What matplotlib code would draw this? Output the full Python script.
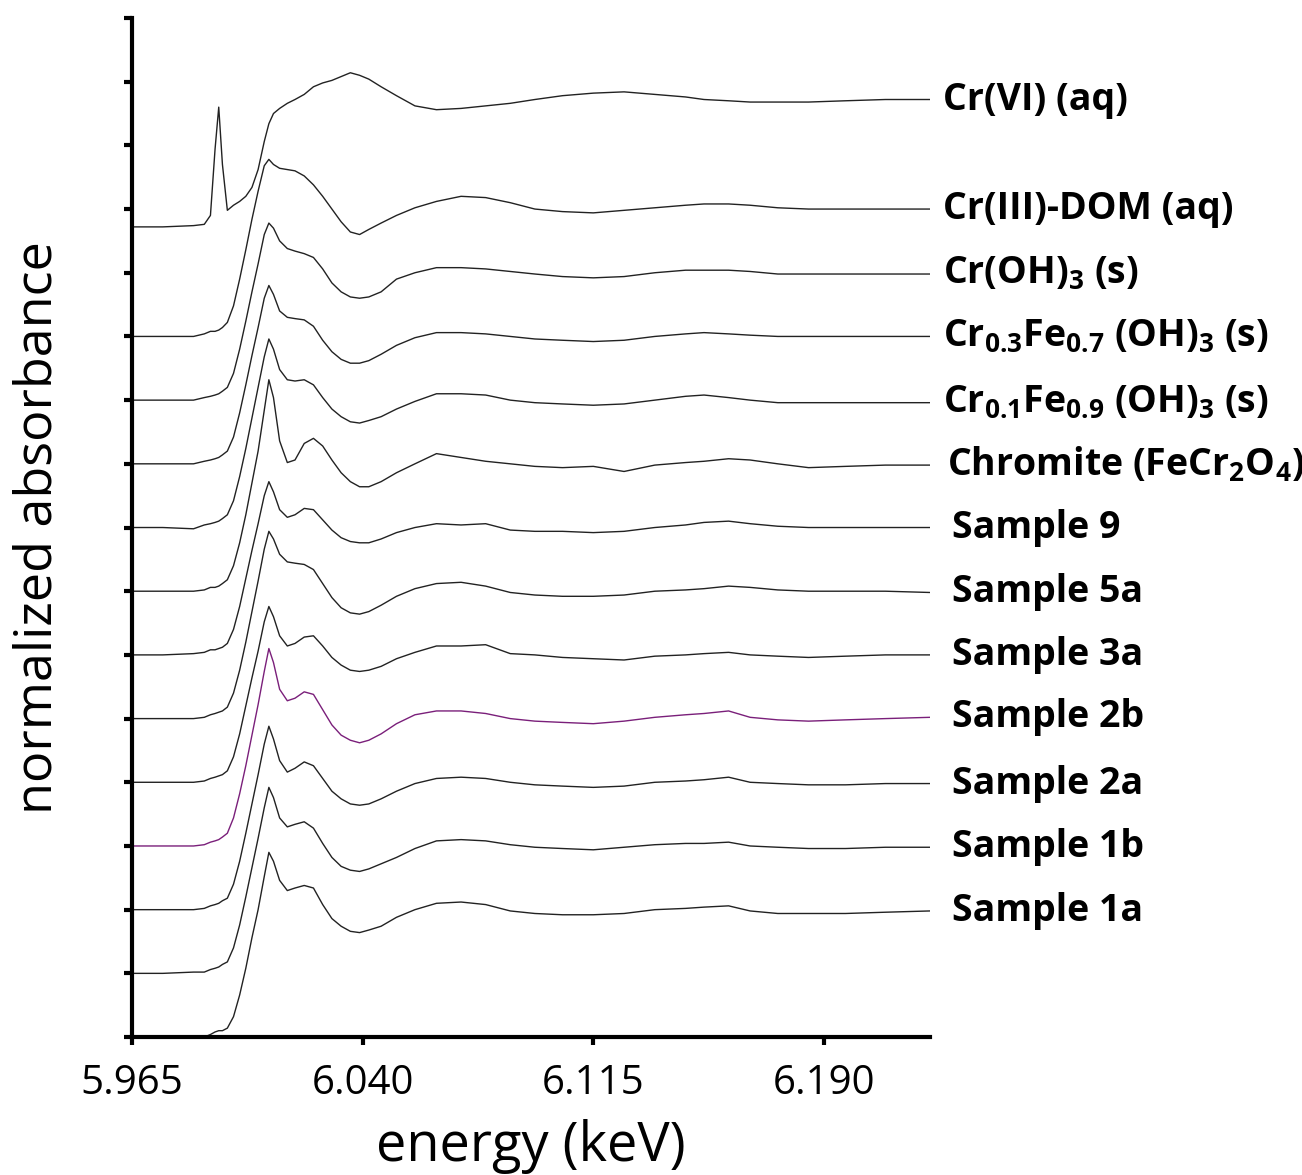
import matplotlib
matplotlib.use("Agg")
import matplotlib.pyplot as plt
import numpy as np

plt.rcParams["font.family"] = ["Open Sans", "DejaVu Sans"]
plt.rcParams["mathtext.fontset"] = "custom"
plt.rcParams["mathtext.rm"] = "Open Sans:bold"
plt.rcParams["mathtext.it"] = "Open Sans:bold"
plt.rcParams["mathtext.bf"] = "Open Sans:bold"


# energy grid (keV), denser around the edge and white line
energy = [5.965, 5.975, 5.985, 5.9885, 5.9905, 5.992, 5.9932, 5.9944, 5.996, 5.998,
          6.000, 6.002, 6.004, 6.006, 6.008, 6.0095, 6.011, 6.013, 6.0155, 6.018,
          6.021, 6.024, 6.027, 6.030, 6.033, 6.036, 6.039, 6.042, 6.046, 6.051,
          6.057, 6.064, 6.072, 6.080, 6.088, 6.096, 6.105, 6.115, 6.125, 6.135,
          6.145, 6.151, 6.159, 6.166, 6.175, 6.185, 6.197, 6.210, 6.2245]

# normalized absorbance of each spectrum (before stacking)
cr6_aq = [0.0, 0.0, 0.01, 0.02, 0.09, 0.61, 0.94, 0.49, 0.13, 0.17,
          0.2, 0.24, 0.31, 0.45, 0.67, 0.81, 0.89, 0.93, 0.97, 1.0,
          1.04, 1.1, 1.13, 1.15, 1.18, 1.21, 1.19, 1.16, 1.1, 1.03,
          0.95, 0.92, 0.93, 0.95, 0.97, 1.0, 1.03, 1.05, 1.06, 1.04,
          1.02, 1.0, 0.99, 0.98, 0.98, 0.98, 0.99, 1.0, 1.0]
cr3_dom = [0.0, 0.0, 0.0, 0.02, 0.04, 0.04, 0.05, 0.07, 0.11, 0.24,
           0.45, 0.68, 0.92, 1.14, 1.34, 1.39, 1.35, 1.32, 1.31, 1.3,
           1.26, 1.19, 1.1, 1.0, 0.9, 0.82, 0.8, 0.84, 0.89, 0.95,
           1.01, 1.06, 1.1, 1.09, 1.05, 1.0, 0.98, 0.97, 0.99, 1.01,
           1.03, 1.04, 1.04, 1.03, 1.01, 1.0, 1.0, 1.0, 1.0]
cr_oh3 = [0.0, 0.0, 0.0, 0.02, 0.03, 0.04, 0.05, 0.07, 0.1, 0.21,
          0.4, 0.62, 0.85, 1.07, 1.3, 1.39, 1.35, 1.25, 1.19, 1.17,
          1.15, 1.12, 1.03, 0.92, 0.85, 0.81, 0.8, 0.81, 0.85, 0.95,
          1.0, 1.04, 1.04, 1.03, 1.01, 0.99, 0.97, 0.96, 0.97, 1.0,
          1.02, 1.02, 1.02, 1.01, 0.99, 0.99, 0.99, 0.99, 0.99]
cr03_fe07 = [0.0, 0.0, 0.0, 0.02, 0.03, 0.04, 0.05, 0.07, 0.1, 0.21,
             0.4, 0.62, 0.85, 1.07, 1.3, 1.4, 1.33, 1.2, 1.15, 1.14,
             1.13, 1.08, 0.97, 0.88, 0.82, 0.79, 0.79, 0.81, 0.86, 0.93,
             0.99, 1.03, 1.03, 1.02, 1.0, 0.98, 0.97, 0.96, 0.97, 1.0,
             1.02, 1.03, 1.02, 1.01, 1.0, 1.0, 1.0, 1.0, 1.0]
cr01_fe09 = [0.0, 0.0, -0.01, 0.02, 0.03, 0.04, 0.05, 0.07, 0.1, 0.21,
             0.4, 0.62, 0.86, 1.1, 1.34, 1.48, 1.4, 1.24, 1.16, 1.15,
             1.16, 1.12, 1.02, 0.93, 0.87, 0.83, 0.82, 0.84, 0.87, 0.93,
             0.99, 1.05, 1.05, 1.04, 1.0, 0.98, 0.97, 0.96, 0.97, 1.0,
             1.03, 1.04, 1.02, 1.0, 0.98, 0.98, 0.98, 0.98, 0.98]
chromite = [0.0, 0.0, 0.0, 0.01, 0.03, 0.03, 0.04, 0.06, 0.09, 0.2,
            0.38, 0.6, 0.85, 1.1, 1.42, 1.66, 1.52, 1.18, 1.01, 1.03,
            1.16, 1.2, 1.14, 1.03, 0.93, 0.86, 0.82, 0.82, 0.86, 0.93,
            1.0, 1.08, 1.05, 1.02, 1.0, 0.98, 0.97, 0.98, 0.94, 0.99,
            1.01, 1.02, 1.04, 1.03, 1.0, 0.97, 0.98, 0.99, 0.99]
sample_9 = [0.0, 0.0, 0.01, 0.02, 0.04, 0.04, 0.05, 0.06, 0.09, 0.2,
            0.38, 0.6, 0.82, 1.03, 1.25, 1.36, 1.28, 1.14, 1.08, 1.1,
            1.15, 1.14, 1.06, 0.98, 0.92, 0.89, 0.88, 0.88, 0.91, 0.96,
            1.0, 1.03, 1.02, 1.03, 0.98, 0.97, 0.97, 0.96, 0.97, 1.0,
            1.02, 1.04, 1.05, 1.03, 1.01, 1.0, 1.0, 1.0, 1.0]
sample_5a = [0.0, 0.0, 0.0, 0.01, 0.03, 0.04, 0.05, 0.06, 0.09, 0.2,
             0.38, 0.6, 0.84, 1.08, 1.33, 1.47, 1.41, 1.29, 1.23, 1.22,
             1.21, 1.17, 1.06, 0.95, 0.87, 0.83, 0.82, 0.84, 0.89, 0.96,
             1.02, 1.06, 1.07, 1.04, 0.99, 0.97, 0.96, 0.96, 0.97, 1.0,
             1.01, 1.02, 1.04, 1.03, 1.01, 1.0, 1.0, 1.0, 0.99]
sample_3a = [0.0, 0.0, 0.0, 0.01, 0.03, 0.04, 0.05, 0.06, 0.09, 0.2,
             0.38, 0.6, 0.82, 1.03, 1.26, 1.38, 1.3, 1.15, 1.07, 1.09,
             1.14, 1.15, 1.07, 0.98, 0.92, 0.88, 0.87, 0.88, 0.91, 0.97,
             1.02, 1.07, 1.07, 1.08, 1.01, 1.0, 0.98, 0.97, 0.96, 0.99,
             1.0, 1.01, 1.02, 1.0, 0.99, 0.98, 0.99, 1.0, 1.0]
sample_2b = [0.0, 0.0, 0.0, 0.01, 0.03, 0.04, 0.05, 0.07, 0.1, 0.22,
             0.41, 0.63, 0.87, 1.11, 1.37, 1.55, 1.44, 1.23, 1.14, 1.16,
             1.21, 1.19, 1.07, 0.95, 0.87, 0.83, 0.81, 0.83, 0.88, 0.96,
             1.03, 1.06, 1.06, 1.04, 1.0, 0.98, 0.97, 0.96, 0.98, 1.01,
             1.03, 1.04, 1.06, 1.01, 0.99, 0.98, 0.99, 1.0, 1.01]
sample_2a = [0.0, 0.0, 0.0, 0.01, 0.03, 0.04, 0.05, 0.07, 0.09, 0.2,
             0.38, 0.6, 0.83, 1.06, 1.3, 1.44, 1.34, 1.17, 1.08, 1.11,
             1.16, 1.13, 1.03, 0.93, 0.87, 0.83, 0.82, 0.83, 0.87, 0.93,
             0.99, 1.03, 1.04, 1.03, 1.0, 0.98, 0.97, 0.96, 0.97, 1.0,
             1.01, 1.02, 1.04, 1.0, 0.99, 0.98, 0.98, 0.99, 0.99]
sample_1b = [0.0, 0.0, 0.01, 0.01, 0.03, 0.04, 0.05, 0.07, 0.09, 0.2,
             0.38, 0.6, 0.83, 1.06, 1.3, 1.46, 1.38, 1.22, 1.15, 1.17,
             1.19, 1.14, 1.02, 0.91, 0.84, 0.81, 0.8, 0.82, 0.86, 0.91,
             0.98, 1.04, 1.05, 1.04, 1.01, 0.99, 0.98, 0.97, 0.99, 1.01,
             1.02, 1.02, 1.03, 1.0, 0.99, 0.98, 0.98, 0.99, 0.99]
sample_1a = [-0.05, -0.04, -0.03, 0.0, 0.02, 0.04, 0.05, 0.05, 0.07, 0.16,
             0.33, 0.54, 0.78, 1.0, 1.26, 1.45, 1.38, 1.23, 1.15, 1.17,
             1.19, 1.17, 1.04, 0.93, 0.87, 0.83, 0.82, 0.84, 0.87, 0.94,
             1.0, 1.05, 1.06, 1.04, 0.99, 0.97, 0.96, 0.96, 0.97, 1.0,
             1.01, 1.02, 1.03, 0.99, 0.97, 0.97, 0.97, 0.98, 0.99]

spectra = [cr6_aq, cr3_dom, cr_oh3, cr03_fe07, cr01_fe09, chromite, sample_9,
           sample_5a, sample_3a, sample_2b, sample_2a, sample_1b, sample_1a]
offsets = [6.36, 5.5, 5.0, 4.5, 4.0, 3.5, 3.0, 2.5, 2.0, 1.5, 1.0, 0.5, 0.0]
labels = [
    "Cr(VI) (aq)",
    "Cr(III)-DOM (aq)",
    r"Cr(OH)$_{3}$ (s)",
    r"Cr$_{0.3}$Fe$_{0.7}$ (OH)$_{3}$ (s)",
    r"Cr$_{0.1}$Fe$_{0.9}$ (OH)$_{3}$ (s)",
    r"Chromite (FeCr$_{2}$O$_{4}$)",
    "Sample 9",
    "Sample 5a",
    "Sample 3a",
    "Sample 2b",
    "Sample 2a",
    "Sample 1b",
    "Sample 1a",
]
colors = ["#222222"] * 9 + ["#7a1f7a"] + ["#222222"] * 3
label_dx = [9, 9, 9, 9, 9, 12, 16, 16, 16, 16, 16, 16, 16]

fig = plt.figure(figsize=(13.02, 11.75), dpi=100)
ax = fig.add_axes([0.1014, 0.1174, 0.6129, 0.8673])

for y, off, lab, col, dx in zip(spectra, offsets, labels, colors, label_dx):
    stacked = np.array(y) + off
    ax.plot(energy, stacked, color=col, lw=1.0, solid_joinstyle="round")
    ax.annotate(lab, xy=(energy[-1], stacked[-1]), xytext=(dx, 0),
                textcoords="offset points", va="center", ha="left",
                fontsize=27, fontweight="bold", annotation_clip=False)

ax.set_xlim(5.965, 6.2245)
ax.set_ylim(0, 8)

ax.spines["top"].set_visible(False)
ax.spines["right"].set_visible(False)
ax.spines["left"].set_linewidth(3)
ax.spines["bottom"].set_linewidth(3)

ax.set_xticks([5.965, 6.040, 6.115, 6.190])
ax.set_xticklabels(["5.965", "6.040", "6.115", "6.190"])
ax.set_yticks(np.arange(0, 8.01, 0.5))
ax.set_yticklabels([])
ax.tick_params(direction="out", length=6, width=3, labelsize=29)
ax.tick_params(axis="x", pad=13)

ax.set_xlabel("energy (keV)", fontsize=39, labelpad=11)
ax.set_ylabel("normalized absorbance", fontsize=37.5, labelpad=40)

fig.savefig("out.png", dpi=100)
